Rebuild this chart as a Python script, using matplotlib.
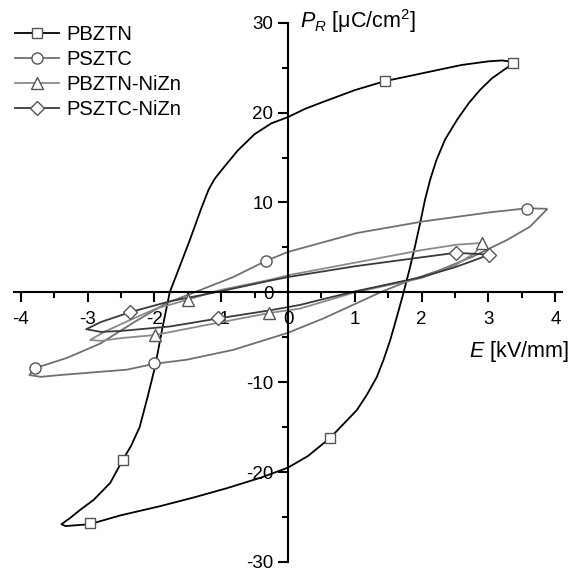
import matplotlib
matplotlib.use("Agg")
import matplotlib.pyplot as plt
from matplotlib.ticker import MultipleLocator

plt.rcParams['font.family'] = ['Liberation Sans', 'DejaVu Sans']
plt.rcParams['mathtext.fontset'] = 'custom'
plt.rcParams['mathtext.rm'] = 'Liberation Sans'
plt.rcParams['mathtext.it'] = 'Liberation Sans:italic'
plt.rcParams['axes.unicode_minus'] = False

# hysteresis loops: E [kV/mm], P [uC/cm2]
pbztn_E = [3.40, 3.20, 3.00, 2.60, 2.28, 1.90, 1.45, 1.00, 0.53, 0.25, 0.00, -0.25, -0.50,
           -0.75, -0.95, -1.10, -1.19, -1.30, -1.47, -1.64, -1.77, -1.88, -1.99, -2.10, -2.22,
           -2.35, -2.47, -2.66, -2.91, -3.11, -3.26, -3.39, -3.33, -3.15, -2.97, -2.50, -1.92,
           -1.40, -0.92, -0.40, 0.00, 0.30, 0.63, 1.03, 1.18, 1.33, 1.43, 1.53, 1.63, 1.73,
           1.82, 1.90, 1.98, 2.05, 2.13, 2.22, 2.35, 2.53, 2.70, 2.87, 3.05, 3.22, 3.40]
pbztn_P = [25.6, 25.8, 25.7, 25.3, 24.8, 24.2, 23.5, 22.5, 21.2, 20.4, 19.5, 18.8, 17.6,
           15.8, 14.0, 12.6, 11.4, 9.3, 5.8, 2.5, 0.0, -4.0, -8.3, -11.6, -15.0,
           -17.1, -18.6, -21.2, -23.1, -24.2, -25.1, -25.8, -26.0, -25.9, -25.8, -24.8, -23.8,
           -22.8, -21.8, -20.6, -19.5, -18.2, -16.2, -13.1, -11.4, -9.4, -7.5, -5.3, -2.7, 0.0,
           2.6, 5.1, 7.8, 10.3, 12.6, 14.7, 17.0, 19.2, 21.0, 22.5, 23.8, 24.7, 25.6]
pbztn_mE = [3.37, 1.45, -2.47, -2.97, 0.63]
pbztn_mP = [25.5, 23.5, -18.6, -25.7, -16.2]

psztc_E = [3.87, 3.57, 3.02, 2.03, 1.03, 0.00, -0.33, -0.82, -1.40, -1.82, -2.32, -2.81, -3.31,
           -3.79, -3.87, -3.70, -3.41, -2.41, -2.00, -1.52, -0.82, 0.00, 0.53, 1.03, 1.38, 1.78,
           2.28, 2.77, 3.27, 3.62, 3.87]
psztc_P = [9.3, 9.35, 8.9, 7.9, 6.6, 4.5, 3.5, 1.7, 0.0, -1.2, -3.4, -5.7, -7.3,
           -8.45, -9.2, -9.4, -9.2, -8.6, -7.95, -7.5, -6.4, -4.5, -2.9, -1.2, 0.0, 1.2,
           2.5, 4.0, 5.8, 7.3, 9.2]
psztc_mE = [3.57, -0.33, -2.00, -3.79]
psztc_mP = [9.3, 3.5, -7.9, -8.45]

pbztn_nizn_E = [2.91, 2.52, 2.00, 1.50, 1.00, 0.50, 0.00, -0.27, -1.02, -1.52, -1.97, -2.37,
                -2.75, -2.96, -2.80, -2.51, -1.99, -1.27, -0.28, 0.18, 0.50, 1.00, 1.50, 2.00,
                2.50, 2.80, 2.91]
pbztn_nizn_P = [5.5, 5.3, 4.7, 4.0, 3.3, 2.6, 1.9, 1.4, 0.25, -0.86, -1.8, -3.1,
                -4.4, -5.3, -5.4, -5.1, -4.75, -3.7, -2.3, -1.8, -1.1, 0.0, 0.8, 1.6,
                3.0, 4.4, 5.5]
pbztn_nizn_mE = [2.91, -1.49, -0.28, -1.99]
pbztn_nizn_mP = [5.5, -0.86, -2.3, -4.75]

psztc_nizn_E = [3.01, 2.51, 2.00, 1.50, 1.00, 0.50, 0.00, -0.27, -1.02, -1.77, -2.36, -2.80,
                -3.02, -2.80, -2.51, -1.77, -1.04, -0.27, 0.18, 0.50, 1.00, 1.50, 2.00, 2.50,
                2.80, 3.01]
psztc_nizn_P = [4.2, 4.4, 3.9, 3.4, 2.9, 2.3, 1.7, 1.3, 0.1, -1.0, -2.2, -3.3,
                -4.1, -4.4, -4.3, -3.8, -2.9, -2.0, -1.4, -0.8, 0.1, 0.9, 1.7, 2.8,
                3.6, 4.2]
psztc_nizn_mE = [2.51, 3.01, -2.36, -1.04]
psztc_nizn_mP = [4.4, 4.2, -2.2, -2.9]

names = ['PBZTN', 'PSZTC', 'PBZTN-NiZn', 'PSZTC-NiZn']
colors = ['#000000', '#707070', '#8a8a8a', '#3a3a3a']
marks = ['s', 'o', '^', 'D']
sizes = [7, 8, 8, 7]

loops = [(pbztn_E, pbztn_P, pbztn_mE, pbztn_mP),
         (psztc_E, psztc_P, psztc_mE, psztc_mP),
         (pbztn_nizn_E, pbztn_nizn_P, pbztn_nizn_mE, pbztn_nizn_mP),
         (psztc_nizn_E, psztc_nizn_P, psztc_nizn_mE, psztc_nizn_mP)]

fig = plt.figure(figsize=(5.78, 5.72), dpi=100)
ax = fig.add_axes([14 / 578, 10 / 572, 548 / 578, 539.3 / 572])

for i, (e, p, me, mp) in enumerate(loops):
    ax.plot(e, p, color=colors[i], lw=1.3, zorder=2)
    ax.plot(me, mp, ls='none', marker=marks[i], ms=sizes[i], mfc='white',
            mec='#555555', mew=1.0, zorder=3)
    ax.plot([], [], color=colors[i], lw=1.3, marker=marks[i], ms=sizes[i],
            mfc='white', mec='#555555', mew=1.0, label=names[i])

ax.set_xlim(-4.1, 4.1)
ax.set_ylim(-30, 30)
ax.spines['left'].set_position(('data', 0))
ax.spines['bottom'].set_position(('data', 0))
ax.spines['top'].set_visible(False)
ax.spines['right'].set_visible(False)
for s in ['left', 'bottom']:
    ax.spines[s].set_linewidth(1.5)

ax.xaxis.set_major_locator(MultipleLocator(1))
ax.xaxis.set_minor_locator(MultipleLocator(0.5))
ax.yaxis.set_major_locator(MultipleLocator(10))
ax.yaxis.set_minor_locator(MultipleLocator(5))
ax.tick_params(which='major', direction='out', length=7.5, width=1.5, labelsize=13.5)
ax.tick_params(axis='x', which='major', pad=6)
ax.tick_params(axis='y', which='major', pad=3)
ax.tick_params(which='minor', direction='out', length=4, width=1.5)

ax.text(0.18, 29.4, r'$P_R$ [μC/cm$^2$]', fontsize=15.5, ha='left', va='baseline')
ax.text(4.2, -7.15, r'$E$ [kV/mm]', fontsize=15.5, ha='right', va='baseline')

ax.legend(loc='upper left', bbox_to_anchor=(15 / 578, 1 - 25 / 572),
          bbox_transform=fig.transFigure, frameon=False, fontsize=14.5,
          borderpad=0, borderaxespad=0, handlelength=2.2, handletextpad=0.35,
          labelspacing=0.3)

fig.savefig('out.png', dpi=100)
